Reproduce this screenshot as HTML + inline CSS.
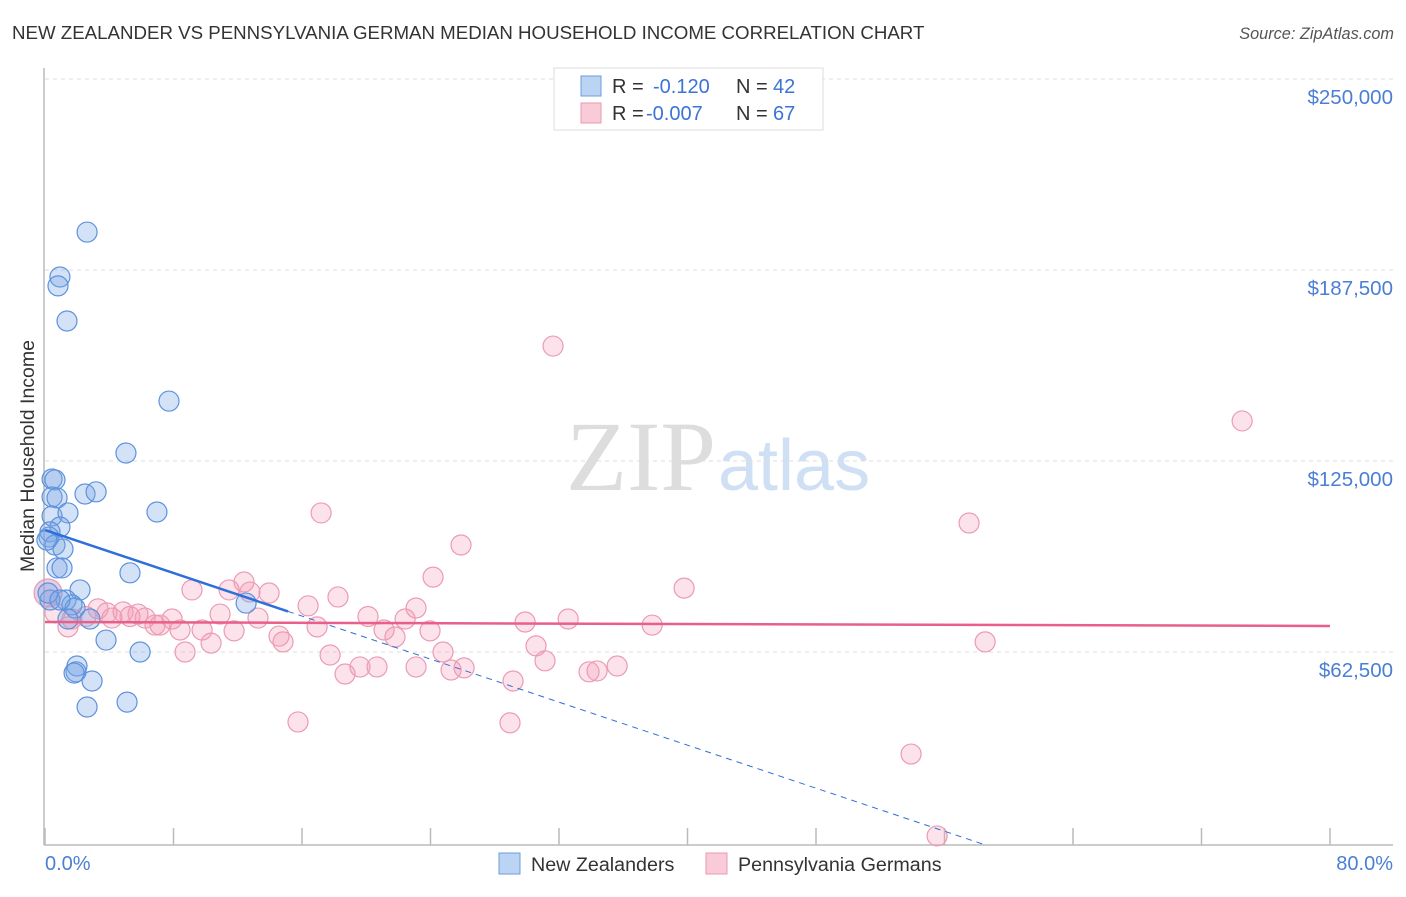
<!DOCTYPE html>
<html><head><meta charset="utf-8"><style>
body{margin:0;background:#fff;font-family:"Liberation Sans",sans-serif}
</style></head><body>
<svg width="1406" height="892" viewBox="0 0 1406 892" xmlns="http://www.w3.org/2000/svg">
<text x="12" y="39" font-size="18.7" fill="#333">NEW ZEALANDER VS PENNSYLVANIA GERMAN MEDIAN HOUSEHOLD INCOME CORRELATION CHART</text>
<text x="1394" y="39" font-size="16.3" fill="#555" font-style="italic" text-anchor="end">Source: ZipAtlas.com</text>
<text x="716" y="490" font-size="100" fill="#ddd" font-family="Liberation Serif,serif" text-anchor="end">ZIP</text>
<text x="718" y="490" font-size="72" fill="#cfe0f5">atlas</text>
<g id="grid"></g>
<g id="axes"></g>
<g id="marks"></g>
<text transform="translate(34,456) rotate(-90)" font-size="19.5" fill="#333" text-anchor="middle">Median Household Income</text>
<text x="45" y="870" font-size="20" fill="#4a7fd4">0.0%</text>
<text x="1393" y="870" font-size="20" fill="#4a7fd4" text-anchor="end">80.0%</text>
<g>
<rect x="554" y="68" width="269" height="62" fill="#fff" stroke="#ddd"/>
<rect x="581" y="76" width="20" height="20" fill="#bcd4f3" stroke="#6b9bdc"/>
<rect x="581" y="103" width="20" height="20" fill="#f9cbd8" stroke="#e99ab2"/>
<text x="612" y="93" font-size="20" fill="#333">R =</text>
<text x="653" y="93" font-size="20" fill="#3b73d6">-0.120</text>
<text x="736" y="93" font-size="20" fill="#333">N =</text>
<text x="773" y="93" font-size="20" fill="#3b73d6">42</text>
<text x="612" y="120" font-size="20" fill="#333">R =</text>
<text x="646" y="120" font-size="20" fill="#3b73d6">-0.007</text>
<text x="736" y="120" font-size="20" fill="#333">N =</text>
<text x="773" y="120" font-size="20" fill="#3b73d6">67</text>
</g>
<g>
<rect x="499" y="853" width="21" height="21" fill="#bcd4f3" stroke="#6b9bdc"/>
<text x="531" y="871" font-size="19.7" fill="#333">New Zealanders</text>
<rect x="706" y="853" width="21" height="21" fill="#f9cbd8" stroke="#e99ab2"/>
<text x="738" y="871" font-size="19.7" fill="#333">Pennsylvania Germans</text>
</g>
</svg>
<script>
const yTicks=[250,187.5,125,62.5];
const yTickLabels=["$250,000","$187,500","$125,000","$62,500"];
const xTicks=[0,8,16,24,32,40,48,56,64,72,80];
const blueX=[2.62,0.93,0.81,1.37,7.72,5.04,0.44,0.62,0.44,0.75,2.49,3.18,6.97,0.44,1.43,0.93,0.31,0.25,0.62,1.12,0.75,1.06,5.29,2.18,1.31,1.68,0.31,1.87,2.80,1.43,3.80,5.92,1.99,1.93,1.81,2.93,2.62,5.11,12.52,0.19,0.12,0.93];
const blueY=[205.8,191.1,188.2,176.7,150.5,133.5,125.0,124.7,119.1,118.8,120.1,120.8,114.2,112.9,113.9,109.3,107.7,106.0,103.4,102.1,95.9,95.9,94.3,88.7,85.4,83.8,85.4,82.8,79.2,79.2,72.3,68.4,63.8,61.9,61.5,58.9,50.4,52.0,84.4,87.7,105,85.4];
const pinkX=[0.19,0.62,1.43,1.68,2.55,3.30,3.86,4.17,4.86,5.29,5.79,6.23,6.85,7.16,7.91,8.41,8.72,9.15,9.78,10.34,10.90,11.46,11.77,12.39,12.76,13.26,13.95,14.57,14.82,15.75,16.38,16.94,17.19,17.75,18.24,18.68,19.61,20.11,20.67,21.11,21.79,22.42,23.10,23.10,23.97,24.16,24.78,25.28,25.90,26.09,28.95,29.14,29.89,30.57,31.13,31.63,32.57,33.87,34.37,35.62,37.80,39.79,53.92,55.54,57.53,58.53,74.53];
const pinkY=[87.7,81.2,76.6,79.2,80.0,82.5,81.2,79.5,81.5,80.0,80.8,79.5,77.2,77.2,79.2,75.6,68.4,88.7,75.6,71.3,80.8,88.7,75.3,91.3,88.0,79.5,87.7,73.6,71.7,45.5,83.5,76.6,113.9,67.4,86.4,61.2,63.5,80.0,63.5,75.6,73.3,79.2,82.8,63.5,75.3,92.9,68.4,62.5,103.4,63.2,45.2,58.9,78.2,70.4,65.5,168.5,79.2,61.9,62.2,63.8,77.2,89.3,35.0,8.2,110.6,71.7,144.0];
const blueTrend=[108.3,-1.76];
const pinkTrend=[78.2,76.9];
const NS="http://www.w3.org/2000/svg";
const X=p=>45+p*16.0625;
const Y=v=>97+(250-v)*3.056;
function mk(tag,attrs,parent){const e=document.createElementNS(NS,tag);for(const k in attrs)e.setAttribute(k,attrs[k]);document.getElementById(parent).appendChild(e);return e;}
yTicks.forEach((t,i)=>{
 const g=mk('line',{x1:45,x2:1393,y1:Y(t)-18,y2:Y(t)-18,stroke:'#ddd','stroke-dasharray':'4,4'},'grid');
 
 
 const l=mk('text',{x:1393,y:Y(t)+7,'font-size':20.5,fill:'#4a7fd4','text-anchor':'end'},'grid');
 l.textContent=yTickLabels[i];
 
 
});
const ya=mk('line',{x1:44,x2:44,y1:68,y2:845,stroke:'#bbb','stroke-width':1.5},'axes');


const xa=mk('line',{x1:44,x2:1393,y1:845,y2:845,stroke:'#bbb','stroke-width':1.5},'axes');


xTicks.forEach(t=>{const k=mk('line',{x1:X(t),x2:X(t),y1:828,y2:845,stroke:'#bbb','stroke-width':1.5},'axes');
 
 });
pinkX.forEach((x,i)=>{const c=mk('circle',{cx:X(x),cy:Y(pinkY[i]),r:i===0?14:10,fill:i===0?'rgba(190,150,200,0.45)':'rgba(244,150,178,0.28)',stroke:'#eb9bb3','stroke-width':1.2},'marks');
 
 });
blueX.forEach((x,i)=>{const c=mk('circle',{cx:X(x),cy:Y(blueY[i]),r:10,fill:'rgba(120,165,230,0.32)',stroke:'#5d92dc','stroke-width':1.2},'marks');
 
 });
const bEnd=15.13,bDash=58.53;
const bl=mk('line',{x1:X(0),y1:Y(blueTrend[0]),x2:X(bEnd),y2:Y(blueTrend[0]+blueTrend[1]*bEnd),stroke:'#2f6fd8','stroke-width':2.5},'marks');


const bd=mk('line',{x1:X(bEnd),y1:Y(blueTrend[0]+blueTrend[1]*bEnd),x2:X(bDash),y2:Y(blueTrend[0]+blueTrend[1]*bDash),stroke:'#2f6fd8','stroke-width':1,'stroke-dasharray':'6,5'},'marks');


const pl=mk('line',{x1:X(0),y1:Y(pinkTrend[0]),x2:X(80),y2:Y(pinkTrend[1]),stroke:'#e8608a','stroke-width':2.5},'marks');


const topGrid=mk('line',{x1:45,x2:1393,y1:79,y2:79,stroke:'#ddd','stroke-dasharray':'4,4'},'grid');


</script>
</body></html>
